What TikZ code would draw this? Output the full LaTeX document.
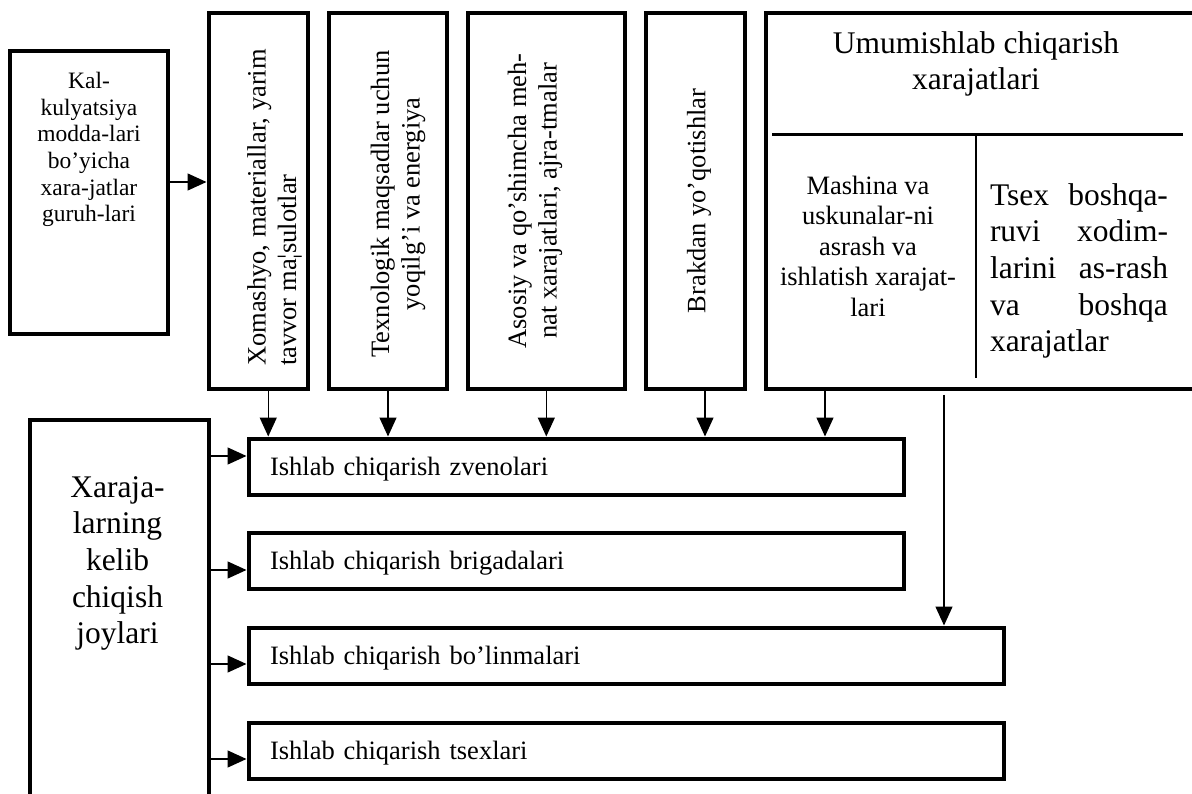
\documentclass[tikz,border=0pt]{standalone}
\usepackage{fontspec}
\setmainfont{Liberation Serif}
\usetikzlibrary{arrows.meta}
\begin{document}
\begin{tikzpicture}[x=1pt,y=-1pt,
  box/.style={draw,line width=4pt,inner sep=0pt},
  arr/.style={-{Triangle[length=19pt,width=17pt]},line width=1.4pt},
  txt/.style={inner sep=0pt},
  small/.style={font=\fontsize{23.5}{26.7}\selectfont},
  normal/.style={font=\fontsize{26.5}{30.5}\selectfont},
  large/.style={font=\fontsize{31.5}{36.7}\selectfont},
  rowbox/.style={box,minimum height=56pt,align=left,inner xsep=21.5pt,
    text height=18pt,text depth=1pt,normal}]
\useasboundingbox (0,0) rectangle (1192,794);

% cost groups by calculation items
\node[box,minimum width=158.5pt,minimum height=283pt] (kal) at (89,192.5) {};
\node[txt,small,align=center] (kaltxt) at (89,149.5)
  {Kal-\\kulyatsiya\\modda-lari\\bo’yicha\\xara-jatlar\\guruh-lari};

% vertical item boxes
\node[box,minimum width=99.5pt,minimum height=376pt] (xom) at (258.25,201) {};
\node[txt,normal,align=left,rotate=90] (xomtxt) at (274.5,207.5)
  {Xomashyo, materiallar, yarim\\tavvor ma¦sulotlar};

\node[box,minimum width=118pt,minimum height=376pt] (tex) at (388,201) {};
\node[txt,normal,align=center,rotate=90] (textxt) at (398,204)
  {Texnologik maqsadlar uchun\\yoqilg’i va energiya};

\node[box,minimum width=157pt,minimum height=376pt] (asos) at (546.3,201) {};
\node[txt,normal,align=center,rotate=90] (asostxt) at (535,201)
  {Asosiy va qo’shimcha meh-\\nat xarajatlari, ajra-tmalar};

\node[box,minimum width=99pt,minimum height=376pt] (brak) at (695.5,201) {};
\node[txt,normal,rotate=90] (braktxt) at (699,201) {Brakdan yo’qotishlar};

% general production costs
\node[box,minimum width=444pt,minimum height=376pt] (umu) at (988,201) {};
\node[txt,large,align=center] (umutxt) at (976,64)
  {Umumishlab chiqarish\\xarajatlari};
\coordinate (hl) at (772,135);
\coordinate (hr) at (1183,135);
\coordinate (vb) at (976,378);
\draw[line width=3pt] (hl) -- (hr);
\draw[line width=2.6pt] (hl -| vb) -- (vb);
\node[txt,normal,align=center] (mashtxt) at (868,246)
  {Mashina va\\uskunalar-ni\\asrash va\\ishlatish xarajat-\\lari};
\node[txt,large,text width=178pt,align=justify] (tsextxt) at (1079,271)
  {Tsex boshqa-\linebreak ruvi xodim-\linebreak larini as-rash\linebreak va boshqa\linebreak xarajatlar};

% places where costs arise
\node[box,minimum width=178.4pt,minimum height=410pt] (xar) at (119.5,625) {};
\node[txt,large,align=center] (xartxt) at (117.5,563.5)
  {Xaraja-\\larning\\kelib\\chiqish\\joylari};

\node[rowbox,minimum width=655pt,text width=612pt] (zv) at (576,466.5) {Ishlab chiqarish zvenolari};
\node[rowbox,minimum width=655pt,text width=612pt] (br) at (576,561) {Ishlab chiqarish brigadalari};
\node[rowbox,minimum width=755pt,text width=712pt] (bo) at (626,655.5) {Ishlab chiqarish bo’linmalari};
\node[rowbox,minimum width=755pt,text width=712pt] (ts) at (626,751) {Ishlab chiqarish tsexlari};

% connectors
\draw[arr] ([yshift=10.5pt]kal.east) -- ([yshift=10.5pt]kal.east -| xom.west);
\draw[arr] ([xshift=10pt]xom.south) -- ([xshift=10pt]xom.south |- zv.north);
\draw[arr] (tex.south) -- (tex.south |- zv.north);
\draw[arr] (asos.south) -- (asos.south |- zv.north);
\draw[arr] ([xshift=9.5pt]brak.south) -- ([xshift=9.5pt]brak.south |- zv.north);
\draw[arr] ([xshift=-163pt]umu.south) -- ([xshift=-163pt]umu.south |- zv.north);
\draw[arr] ([xshift=-44pt,yshift=-4pt]umu.south) -- ([xshift=-44pt]umu.south |- bo.north);

\draw[arr] ([yshift=10.5pt]zv.west -| xar.east) -- ([yshift=10.5pt]zv.west);
\draw[arr] ([yshift=-9pt]br.west -| xar.east) -- ([yshift=-9pt]br.west);
\draw[arr] ([yshift=-8.5pt]bo.west -| xar.east) -- ([yshift=-8.5pt]bo.west);
\draw[arr] ([yshift=-8pt]ts.west -| xar.east) -- ([yshift=-8pt]ts.west);
\end{tikzpicture}
\end{document}
